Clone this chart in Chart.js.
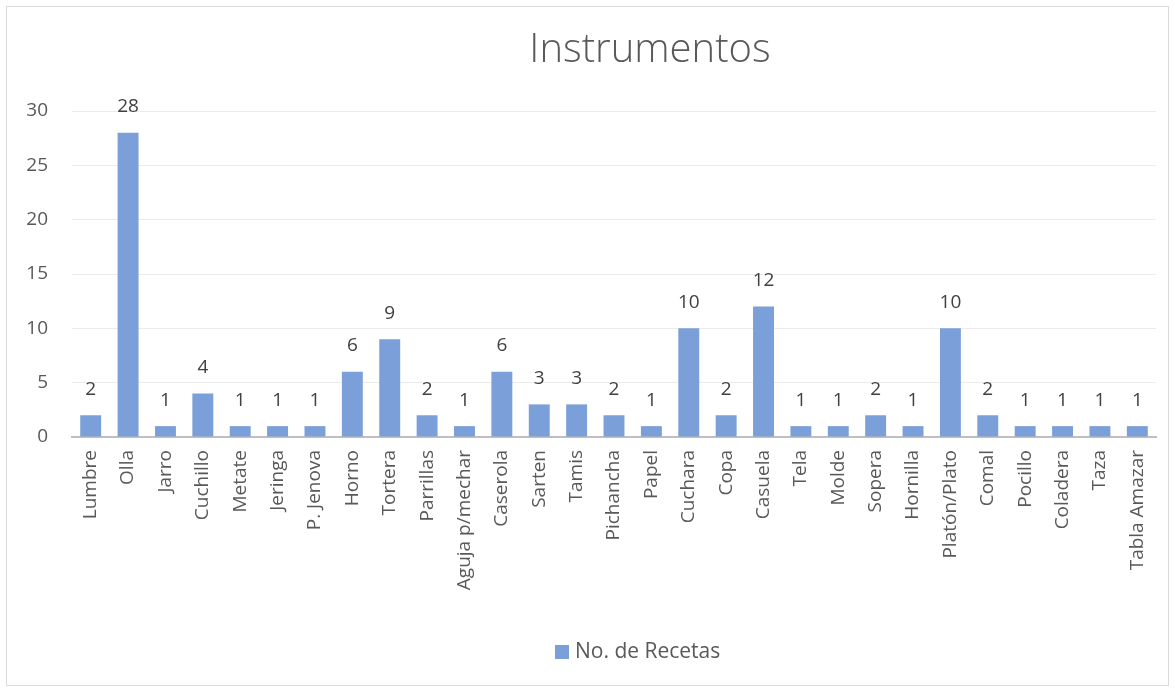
<!DOCTYPE html>
<html>
<head>
<meta charset="utf-8">
<script src="https://cdn.jsdelivr.net/npm/chart.js@4/dist/chart.umd.min.js"></script>
<style>
  body { margin: 0; background: #fff; }
  #box { position: absolute; left: 6px; top: 6px; width: 1163px; height: 680px; border: 1px solid #d9d9d9; box-sizing: border-box; }
  #chart { display: block; }
</style>
</head>
<body>
<div id="box"><canvas id="chart" width="1161" height="678"></canvas></div>
<script>
const categories = ['Lumbre', 'Olla', 'Jarro', 'Cuchillo', 'Metate', 'Jeringa', 'P. Jenova', 'Horno', 'Tortera', 'Parrillas',
  'Aguja p/mechar', 'Caserola', 'Sarten', 'Tamis', 'Pichancha', 'Papel', 'Cuchara', 'Copa', 'Casuela', 'Tela',
  'Molde', 'Sopera', 'Hornilla', 'Platón/Plato', 'Comal', 'Pocillo', 'Coladera', 'Taza', 'Tabla Amazar'];
const recetas = [2, 28, 1, 4, 1, 1, 1, 6, 9, 2, 1, 6, 3, 3, 2, 1, 10, 2, 12, 1, 1, 2, 1, 10, 2, 1, 1, 1, 1];
const yTicks = [0, 5, 10, 15, 20, 25, 30];
const title = 'Instrumentos';
const seriesName = 'No. de Recetas';

const FONT = '"Open Sans", "Noto Sans", sans-serif';
const BAR = '#7b9fd8';

// value labels over each bar
const barLabels = {
  id: 'barLabels',
  afterDatasetsDraw(chart) {
    const ctx = chart.ctx;
    const meta = chart.getDatasetMeta(0);
    ctx.save();
    ctx.font = '19px ' + FONT;
    ctx.fillStyle = '#404040';
    ctx.textAlign = 'center';
    ctx.textBaseline = 'middle';
    meta.data.forEach((bar, i) => {
      ctx.fillText(recetas[i], bar.x, bar.y - 26);
    });
    ctx.restore();
  }
};

// title and legend sit a bit right of centre in the original
const titleAndLegend = {
  id: 'titleAndLegend',
  afterDraw(chart) {
    const ctx = chart.ctx;
    ctx.save();
    ctx.fillStyle = '#595959';
    ctx.font = '300 40px ' + FONT;
    ctx.textAlign = 'center';
    ctx.textBaseline = 'alphabetic';
    ctx.fillText(title, 643, 55);

    ctx.fillStyle = BAR;
    ctx.fillRect(548, 638, 14, 14);
    ctx.fillStyle = '#595959';
    ctx.font = '21px ' + FONT;
    ctx.textAlign = 'left';
    ctx.textBaseline = 'middle';
    ctx.fillText(seriesName, 568, 645);
    ctx.restore();
  }
};

new Chart(document.getElementById('chart'), {
  type: 'bar',
  data: {
    labels: categories,
    datasets: [{
      label: seriesName,
      data: recetas,
      backgroundColor: BAR,
      barPercentage: 0.56,
      categoryPercentage: 1
    }]
  },
  options: {
    responsive: false,
    animation: false,
    devicePixelRatio: 1,
    layout: { padding: { left: 0, right: 12, top: 104, bottom: 52 } },
    plugins: {
      title: { display: false },
      legend: { display: false },
      tooltip: { enabled: false }
    },
    scales: {
      x: {
        grid: { display: false, drawTicks: false },
        border: { color: '#bfbfbf', width: 2 },
        ticks: {
          color: '#595959',
          font: { family: FONT, size: 19 },
          minRotation: 90,
          maxRotation: 90,
          autoSkip: false,
          padding: 13
        },
        afterFit(axis) {
          axis.height = 196;
          axis.paddingLeft = 0;
          axis.paddingRight = 0;
        }
      },
      y: {
        min: 0,
        max: 30,
        grid: { color: '#ebebeb', drawTicks: false },
        border: { display: false },
        ticks: {
          color: '#595959',
          font: { family: FONT, size: 19 },
          stepSize: 5,
          padding: 24,
          callback: v => yTicks.includes(v) ? v : ''
        },
        afterFit(axis) { axis.width = 65; }
      }
    }
  },
  plugins: [barLabels, titleAndLegend]
});
</script>
</body>
</html>
